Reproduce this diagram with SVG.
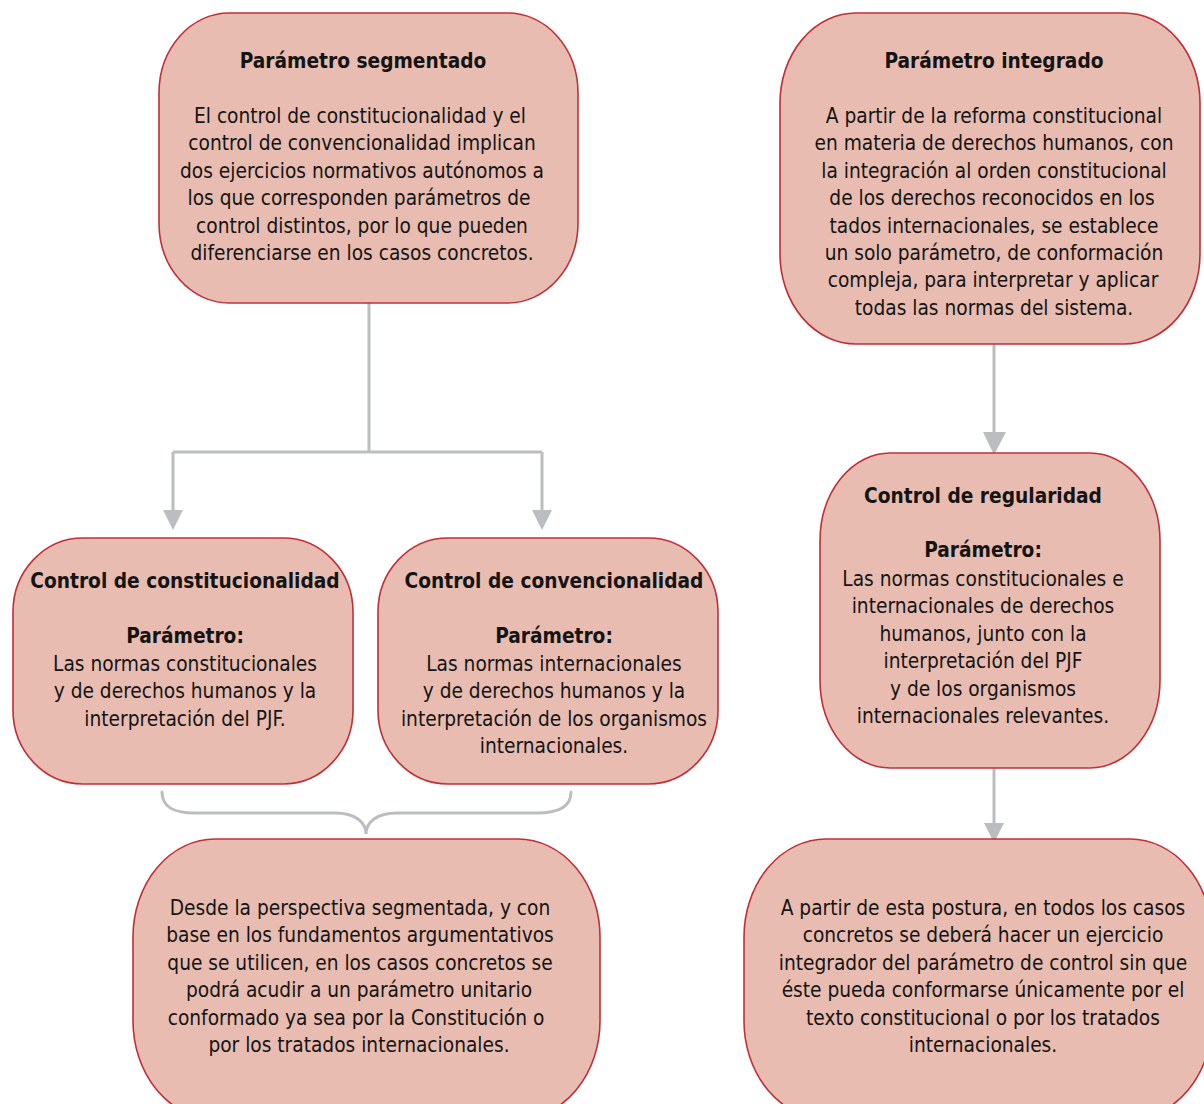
<svg xmlns="http://www.w3.org/2000/svg" width="1204" height="1104" viewBox="0 0 1204 1104">
<style>
.box{fill:#E8BCB0;stroke:#BF3039;stroke-width:1.6}
.t{font-family:"DejaVu Sans Condensed","DejaVu Sans",sans-serif;font-size:20.7px;fill:#141414;text-anchor:middle}
.b{font-weight:bold}
.con{fill:none;stroke:#BCBDC0;stroke-width:3}
.ah{fill:#BCBDC0}
</style>
<rect width="1204" height="1104" fill="#FFFFFF"/>
<g id="connectors">
<path class="con" d="M369,303 V452 M173,452 H542 M173,452 V512 M542,452 V512"/>
<polygon class="ah" points="163,510 183,510 173,530"/>
<polygon class="ah" points="532,510 552,510 542,530"/>
<path class="con" d="M994,344 V434"/>
<polygon class="ah" points="983,432 1006,432 994,455"/>
<path class="con" d="M994,768 V825"/>
<polygon class="ah" points="984,823 1004,823 994,843"/>
<path class="con" stroke-width="5" stroke-linecap="round" d="M162,792 C162,808 175,813 195,813 L335,813 C355,813 366,822 366,834 C366,822 377,813 397,813 L537,813 C557,813 571,808 571,792"/>
</g>
<g id="n1">
<rect class="box" x="159" y="13" width="419" height="290" rx="70" ry="80"/>
<text class="t b" x="363" y="68">Parámetro segmentado</text>
<text class="t" x="360" y="123">El control de constitucionalidad y el</text>
<text class="t" x="362" y="150.4">control de convencionalidad implican</text>
<text class="t" x="362" y="177.8">dos ejercicios normativos autónomos a</text>
<text class="t" x="359" y="205.2">los que corresponden parámetros de</text>
<text class="t" x="362" y="232.6">control distintos, por lo que pueden</text>
<text class="t" x="362" y="260">diferenciarse en los casos concretos.</text>
</g>
<g id="n2">
<rect class="box" x="780" y="13" width="420" height="331" rx="76" ry="90"/>
<text class="t b" x="994" y="68">Parámetro integrado</text>
<text class="t" x="994" y="123">A partir de la reforma constitucional</text>
<text class="t" x="994" y="150.4">en materia de derechos humanos, con</text>
<text class="t" x="994" y="177.8">la integración al orden constitucional</text>
<text class="t" x="992" y="205.2">de los derechos reconocidos en los</text>
<text class="t" x="994" y="232.6">tados internacionales, se establece</text>
<text class="t" x="994" y="260">un solo parámetro, de conformación</text>
<text class="t" x="993" y="287.4">compleja, para interpretar y aplicar</text>
<text class="t" x="994" y="314.8">todas las normas del sistema.</text>
</g>
<g id="n3">
<rect class="box" x="13" y="538" width="340" height="246" rx="70" ry="74"/>
<text class="t b" x="185" y="588">Control de constitucionalidad</text>
<text class="t b" x="185" y="643">Parámetro:</text>
<text class="t" x="185" y="671">Las normas constitucionales</text>
<text class="t" x="185" y="698.4">y de derechos humanos y la</text>
<text class="t" x="185" y="725.8">interpretación del PJF.</text>
</g>
<g id="n4">
<rect class="box" x="378" y="538" width="340" height="246" rx="70" ry="74"/>
<text class="t b" x="554" y="588">Control de convencionalidad</text>
<text class="t b" x="554" y="643">Parámetro:</text>
<text class="t" x="554" y="671">Las normas internacionales</text>
<text class="t" x="554" y="698.4">y de derechos humanos y la</text>
<text class="t" x="554" y="725.8">interpretación de los organismos</text>
<text class="t" x="554" y="753.2">internacionales.</text>
</g>
<g id="n5">
<rect class="box" x="820" y="453" width="340" height="315" rx="70" ry="88"/>
<text class="t b" x="983" y="503">Control de regularidad</text>
<text class="t b" x="983" y="557">Parámetro:</text>
<text class="t" x="983" y="586">Las normas constitucionales e</text>
<text class="t" x="983" y="613.4">internacionales de derechos</text>
<text class="t" x="983" y="640.8">humanos, junto con la</text>
<text class="t" x="983" y="668.2">interpretación del PJF</text>
<text class="t" x="983" y="695.6">y de los organismos</text>
<text class="t" x="983" y="723">internacionales relevantes.</text>
</g>
<g id="n6">
<rect class="box" x="133" y="839" width="467" height="280" rx="82" ry="98"/>
<text class="t" x="360" y="915">Desde la perspectiva segmentada, y con</text>
<text class="t" x="360" y="942.4">base en los fundamentos argumentativos</text>
<text class="t" x="360" y="969.8">que se utilicen, en los casos concretos se</text>
<text class="t" x="359" y="997.2">podrá acudir a un parámetro unitario</text>
<text class="t" x="356" y="1024.6">conformado ya sea por la Constitución o</text>
<text class="t" x="359" y="1052">por los tratados internacionales.</text>
</g>
<g id="n7">
<rect class="box" x="744" y="839" width="468" height="280" rx="82" ry="98"/>
<text class="t" x="983" y="915">A partir de esta postura, en todos los casos</text>
<text class="t" x="983" y="942.4">concretos se deberá hacer un ejercicio</text>
<text class="t" x="983" y="969.8">integrador del parámetro de control sin que</text>
<text class="t" x="983" y="997.2">éste pueda conformarse únicamente por el</text>
<text class="t" x="983" y="1024.6">texto constitucional o por los tratados</text>
<text class="t" x="983" y="1052">internacionales.</text>
</g>
</svg>
